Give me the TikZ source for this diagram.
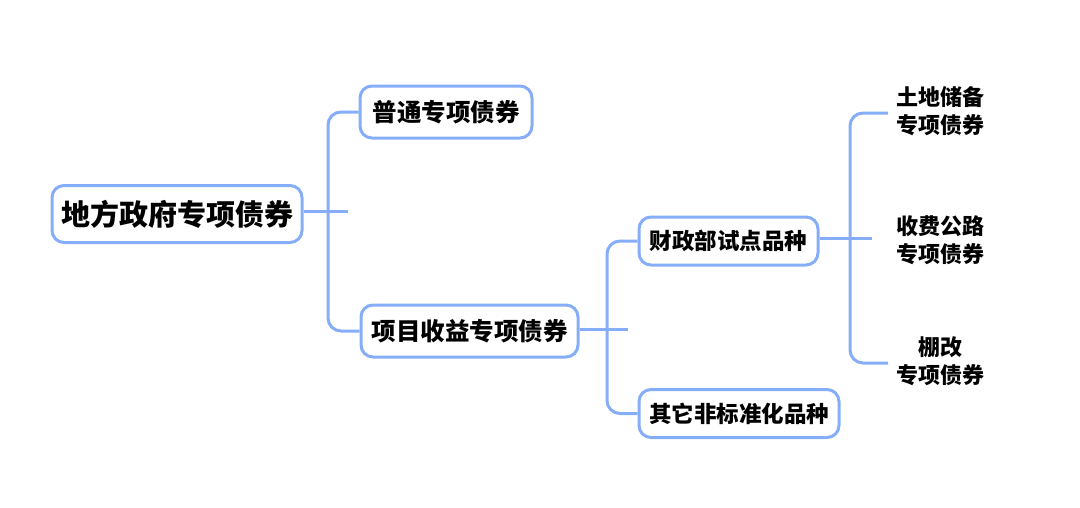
\documentclass[tikz,border=0pt]{standalone}
\usepackage{fontspec}
\usetikzlibrary{backgrounds}
\newfontfamily\cjk{Noto Sans CJK SC}
\definecolor{lineblue}{HTML}{86ADF7}
\tikzset{
  box/.style={draw=lineblue, line width=3pt, rounded corners=12pt, fill=white, inner xsep=6pt, inner ysep=6pt, text=black},
  leaf/.style={align=center, inner sep=6pt, font=\cjk\bfseries\fontsize{22}{28}\selectfont, text=black},
  conn/.style={draw=lineblue, line width=3pt, rounded corners=13pt},
  stub/.style={draw=lineblue, line width=3pt}
}
\begin{document}
\begin{tikzpicture}[x=1pt,y=-1pt]
\useasboundingbox (0,0) rectangle (1080,507);
\node[box, font=\cjk\bfseries\fontsize{29}{32}\selectfont, minimum width=250pt, minimum height=57pt] (root) at (177,214) {地方政府专项债券};
\node[box, font=\cjk\bfseries\fontsize{24.5}{28}\selectfont, minimum width=172pt, minimum height=52pt] (a) at (446,112) {普通专项债券};
\node[box, font=\cjk\bfseries\fontsize{24.5}{28}\selectfont, minimum width=217pt, minimum height=52pt] (b) at (469.5,331) {项目收益专项债券};
\node[box, font=\cjk\bfseries\fontsize{22.5}{26}\selectfont, minimum width=179pt, minimum height=48pt] (c) at (728.5,241) {财政部试点品种};
\node[box, font=\cjk\bfseries\fontsize{22.5}{26}\selectfont, minimum width=200pt, minimum height=48pt] (d) at (739,413.5) {其它非标准化品种};
\node[leaf, anchor=west] (l1) at (890,111) {土地储备\\专项债券};
\node[leaf, anchor=west] (l2) at (890,240) {收费公路\\专项债券};
\node[leaf, anchor=west] (l3) at (890,361) {棚改\\专项债券};
\coordinate (v1) at (328,0);
\coordinate (v2) at (607,0);
\coordinate (v3) at (850,0);
\coordinate (s1) at (348,211);
\coordinate (s2) at (628,329);
\coordinate (s3) at (872,238);
\coordinate (e1) at (888,113);
\coordinate (e3) at (888,363);
\begin{scope}[on background layer]
\draw[conn] (a.west) -- (a.west -| v1) -- (b.west -| v1) -- (b.west);
\draw[stub] (root.east |- s1) -- (s1);
\draw[conn] (c.west) -- (c.west -| v2) -- (d.west -| v2) -- (d.west);
\draw[stub] (b.east |- s2) -- (s2);
\draw[conn] (e1) -- (e1 -| v3) -- (e3 -| v3) -- (e3);
\draw[stub] (c.east |- s3) -- (s3);
\end{scope}
\end{tikzpicture}
\end{document}
